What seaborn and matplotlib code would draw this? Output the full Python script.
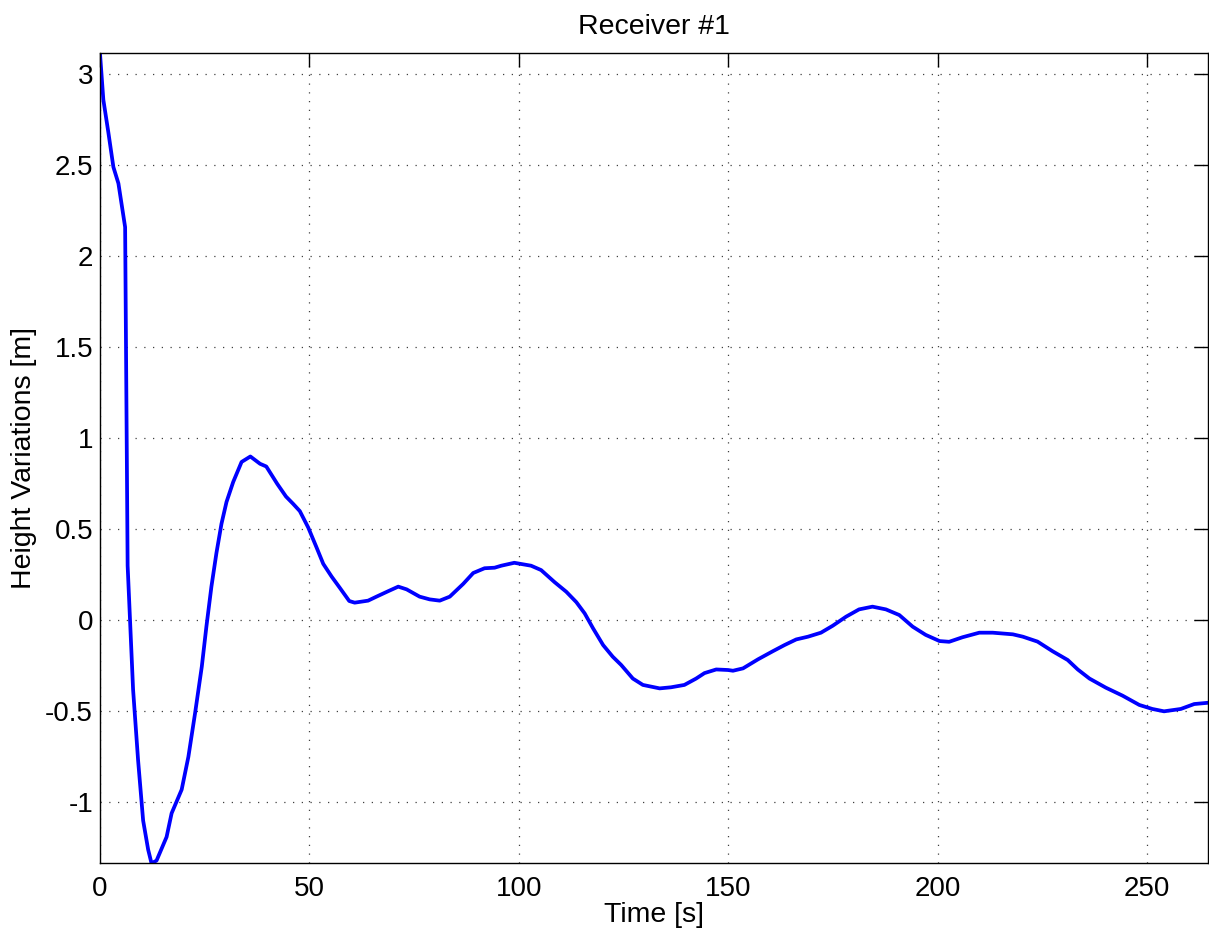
import matplotlib
matplotlib.use("Agg")
import matplotlib.pyplot as plt
import seaborn as sns
from matplotlib.ticker import FormatStrFormatter, MultipleLocator

# Receiver #1 surface height record
time_s = [0, 0.8, 2.0, 3.2, 4.4, 6.0, 6.6, 7.9, 9.1, 10.3, 11.5, 12.3, 13.5, 15.9,
          17.1, 19.5, 21.1, 22.7, 24.3, 25.4, 26.6, 27.8, 29.0, 30.2, 31.8, 33.8,
          35.9, 38.2, 39.7, 42.3, 44.4, 46.1, 47.7, 49.7, 51.7, 53.3, 55.3, 57.2,
          59.5, 60.8, 64.0, 66.0, 68.8, 71.2, 73.2, 76.3, 78.7, 81.1, 83.5, 86.7,
          89.1, 91.8, 94.2, 95.8, 98.9, 102.9, 105.3, 108.5, 111.3, 113.7, 115.7,
          117.7, 120.1, 122.4, 124.4, 127.2, 129.6, 133.6, 136.3, 139.5, 142.3,
          144.3, 147.1, 149.9, 151.1, 153.5, 157.1, 160.6, 163.4, 166.2, 169.0,
          172.1, 174.9, 178.1, 181.2, 184.4, 187.6, 190.8, 194.0, 197.1, 200.4,
          202.7, 205.9, 209.9, 213.1, 217.9, 220.3, 223.8, 227.4, 231.0, 233.4,
          236.2, 240.1, 244.1, 248.1, 251.2, 254.0, 258.0, 261.2, 264.5]
height_m = [3.115, 2.86, 2.68, 2.49, 2.40, 2.16, 0.30, -0.38, -0.77, -1.10, -1.26,
            -1.335, -1.32, -1.19, -1.06, -0.93, -0.75, -0.51, -0.255, -0.035, 0.185,
            0.37, 0.53, 0.65, 0.76, 0.87, 0.90, 0.86, 0.845, 0.75, 0.68, 0.64, 0.60,
            0.51, 0.40, 0.31, 0.24, 0.18, 0.106, 0.097, 0.108, 0.13, 0.16, 0.185,
            0.17, 0.13, 0.115, 0.108, 0.13, 0.20, 0.26, 0.286, 0.289, 0.30, 0.316,
            0.30, 0.276, 0.21, 0.157, 0.10, 0.038, -0.044, -0.136, -0.20, -0.245,
            -0.32, -0.355, -0.374, -0.368, -0.355, -0.32, -0.29, -0.27, -0.273,
            -0.277, -0.264, -0.214, -0.17, -0.136, -0.105, -0.09, -0.068, -0.03,
            0.02, 0.06, 0.075, 0.06, 0.029, -0.035, -0.08, -0.114, -0.118, -0.093,
            -0.068, -0.068, -0.077, -0.09, -0.117, -0.17, -0.218, -0.27, -0.32,
            -0.37, -0.414, -0.465, -0.487, -0.50, -0.487, -0.46, -0.453]

x_ticks = [0, 50, 100, 150, 200, 250]

sns.set_style("white")
plt.rcParams["font.family"] = ["Liberation Sans", "DejaVu Sans"]
plt.rcParams["axes.unicode_minus"] = False
plt.rcParams["text.color"] = "black"
plt.rcParams["axes.labelcolor"] = "black"

fig = plt.figure(figsize=(12.09, 9.30), dpi=100)
ax = fig.add_axes([0.0827, 0.0717, 0.9165, 0.871])

sns.lineplot(x=time_s, y=height_m, ax=ax, color="#0000ff", linewidth=2.7,
             estimator=None, sort=False)

ax.set_xlim(0, 264.5)
ax.set_ylim(min(height_m), max(height_m))
ax.set_xticks(x_ticks)
ax.yaxis.set_major_locator(MultipleLocator(0.5))
ax.yaxis.set_major_formatter(FormatStrFormatter("%g"))

ax.grid(True, color="0.25", linestyle=(0, (1, 6)), linewidth=0.9)
ax.tick_params(direction="in", length=10, width=1, top=True, right=True,
               labelsize=20, colors="black")
ax.tick_params(axis="x", pad=9)
ax.tick_params(axis="y", pad=5)
for side in ax.spines.values():
    side.set_visible(True)
    side.set_color("black")
    side.set_linewidth(1.0)

ax.set_title("Receiver #1", fontsize=20.5, pad=14, color="black")
ax.set_xlabel("Time [s]", fontsize=20.5, labelpad=0)
ax.set_ylabel("Height Variations [m]", fontsize=20.5, labelpad=6)

fig.savefig("out.png", dpi=100)
